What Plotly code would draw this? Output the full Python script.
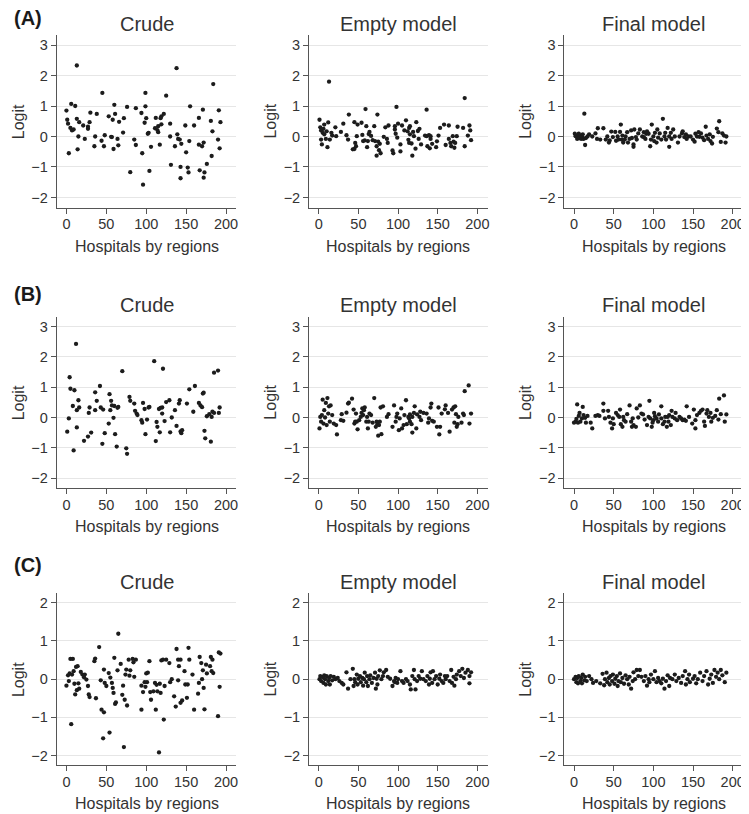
import plotly.graph_objects as go

# ---------------- data ----------------
a_crude_x = [0,1,2,3,5,6,7,9,11,13,13,14,15,16,21,23,27,27,29,30,35,36,38,44,45,47,48,53,56,57,58,59,60,61,64,65,66,71,72,76,80,85,87,87,94,95,98,99,99,96,100,102,103,104,106,111,112,114,115,115,117,118,119,119,122,125,130,130,131,136,138,139,140,142,143,143,144,149,150,152,153,154,155,160,166,166,167,170,171,172,173,172,176,181,182,183,184,190,191,192,193]
a_crude_y = [0.85,0.55,0.42,-0.55,0.28,1.07,0.2,0.23,1.0,2.33,0.58,-0.42,0,0.47,0.36,-0.08,0.32,0.25,0.47,0.78,-0.32,0,0.74,-0.14,1.43,-0.32,0.04,0.66,-0.01,-0.02,0.55,-0.41,1.04,0.74,-0.08,-0.29,0.48,0.13,0.6,0.97,-1.17,-0.1,-0.28,0.93,0.77,-0.55,0.45,0.99,1.43,-1.58,0.6,0.09,0.12,-1.13,-0.34,0.27,0.61,0.21,0.34,0.14,-0.27,0.6,0.4,0.66,0.74,1.34,0,0.42,-0.93,-0.32,2.24,0.07,-0.08,-0.1,-1.37,-1.0,-0.24,0.36,-0.52,-1.02,-1.18,-0.15,0.99,0.36,-0.27,0.61,-1.11,-0.32,0.88,-0.2,-1.18,-1.35,-0.9,0.51,-0.64,0.17,1.72,-0.1,0.86,-0.39,0.47]

a_empty_x = [1,2,3,3,4,5,6,7,7,9,10,11,12,13,14,16,17,21,22,28,31,35,37,38,43,45,45,46,47,48,49,54,55,56,58,59,60,61,62,63,64,66,68,70,71,73,73,74,75,76,77,78,82,84,86,87,88,93,94,96,96,97,98,99,100,103,103,105,108,110,112,113,114,114,115,115,117,118,119,120,122,123,125,126,127,129,134,136,136,137,139,140,141,141,143,148,149,151,153,158,160,164,164,166,167,169,170,171,172,174,175,182,184,184,188,190,191,192]
a_empty_y = [0.55,0.3,0.2,-0.1,-0.26,0.12,0.25,0.39,0.07,-0.08,0.17,-0.35,0.46,1.8,-0.1,0.12,0.03,0.3,0.01,0.15,0.42,0.04,-0.1,0.72,-0.42,-0.41,0.47,-0.21,-0.32,0.01,0.39,0.45,0.05,-0.15,-0.13,0.9,0.34,-0.35,-0.15,0.08,0.15,0.02,-0.12,0.34,-0.15,-0.32,-0.63,0.72,-0.17,-0.45,-0.24,-0.55,-0.01,0.3,-0.08,-0.21,0.36,-0.46,-0.55,0.23,0.34,0.09,0.97,-0.04,0.42,-0.26,-0.49,0.36,0.2,0.53,0.17,-0.11,0.28,-0.21,0.34,0.07,-0.23,-0.63,0.15,0.01,-0.4,0.47,0.18,-0.08,0.25,-0.26,0.03,0.88,0.01,-0.32,0.04,-0.39,-0.08,0.01,-0.24,-0.35,-0.16,0.03,0.28,0.39,-0.28,0.36,-0.08,-0.21,-0.32,0.01,-0.17,-0.37,-0.21,0.01,0.32,0.28,1.26,-0.32,0.03,0.36,0.2,-0.12]

a_final_x = [1,2,3,4,5,6,7,8,9,10,11,12,13,14,15,17,19,23,27,29,30,33,37,40,42,44,45,47,49,52,53,55,56,58,59,60,61,62,64,65,67,68,70,72,73,75,75,76,78,79,81,83,86,88,88,90,91,92,94,96,97,98,100,101,102,104,105,106,108,110,112,114,115,116,118,120,120,122,123,125,127,131,133,136,137,139,141,142,144,147,150,152,153,155,157,158,160,162,164,166,167,169,171,172,174,175,180,182,183,185,187,189,191,192]
a_final_y = [0.09,0.01,0.03,-0.08,0,0.09,-0.05,0.03,-0.08,0,0.07,-0.08,0.75,-0.28,-0.05,0,0.07,0,0.1,-0.08,0.27,-0.1,0.27,-0.1,0,-0.2,-0.13,0.16,-0.02,0.15,-0.14,0,-0.1,0.15,0.39,-0.1,0.03,-0.2,-0.1,0,0.14,-0.2,-0.08,0.2,-0.05,-0.34,-0.26,0.23,-0.02,-0.1,0.1,0.23,0,-0.02,0.14,-0.08,0.09,0.17,0.09,-0.32,-0.1,0.39,0,-0.15,0.12,-0.2,0.23,-0.04,0.1,-0.1,0.58,0,0.12,-0.1,0.28,0,-0.34,0.12,-0.08,0.23,0,-0.2,0,0.1,0.17,-0.02,0.07,-0.08,0,0,-0.1,-0.17,0.09,0,0.14,-0.01,0.1,-0.04,-0.12,0.32,0.03,-0.08,0.07,-0.15,-0.23,-0.01,0.26,0.14,0.5,-0.18,0.1,0.03,-0.2,0]

b_crude_x = [1,3,4,5,8,9,10,12,13,13,15,16,22,27,28,29,31,36,36,38,42,43,45,46,48,53,54,55,56,57,59,60,61,63,64,65,70,75,76,79,80,85,86,88,89,94,95,96,98,99,101,103,104,110,112,113,114,116,117,118,120,120,121,123,125,129,130,132,136,138,141,142,143,144,145,151,154,159,161,166,168,170,171,172,173,174,176,179,181,182,183,185,185,190,191,192]
b_crude_y = [-0.47,-0.03,1.33,0.95,0.38,-1.09,0.9,2.43,0.24,-0.33,0.57,0.33,-0.77,-0.63,0.15,0.33,-0.5,0.24,0.83,0.55,1.04,0.33,-0.87,0.26,-0.52,-0.2,0.77,0.24,0.55,0.4,-0.01,0.38,-0.55,-0.96,0.32,0.35,1.53,-1.02,-1.2,0.68,0.55,0.46,0.22,0.13,0.08,-0.09,-0.17,0.48,0.28,-0.55,-0.07,0.33,0.35,1.86,-0.78,-0.15,-0.31,0.28,-0.49,0.32,0.33,0.13,1.61,-0.12,0.51,0.57,-0.49,0,0.24,-0.28,0.46,0.57,-0.46,-0.52,-0.42,0.46,0.93,0.19,1.04,0.48,0.4,0.34,0.79,0.82,-0.44,-0.69,0.04,0.11,-0.8,0.02,0.19,1.48,0.15,1.55,0.15,0.33]

b_empty_x = [1,2,3,4,5,6,7,8,9,10,11,12,13,14,15,17,19,22,23,28,29,31,35,37,38,42,44,45,46,47,48,49,51,53,54,55,56,57,58,60,61,62,63,64,66,68,70,72,73,74,75,76,77,78,79,81,86,88,93,95,97,98,99,101,102,104,105,107,108,110,111,113,114,115,115,117,118,118,120,121,123,124,127,128,129,132,136,138,139,141,142,143,145,149,151,152,153,155,159,160,163,165,168,170,171,172,173,174,175,176,180,182,183,184,189,190,192]
b_empty_y = [-0.36,0.02,-0.14,0.08,0.59,-0.2,0.24,0,0.48,-0.25,0.64,0.13,0.37,-0.14,0.4,0.08,-0.2,-0.25,-0.56,-0.09,0.11,-0.11,0.16,0.46,0.49,0.62,0.26,-0.2,-0.14,0.13,-0.14,-0.39,-0.09,0.02,0.15,0.3,0.08,0.24,0.33,-0.14,0.02,-0.36,-0.14,0.13,0.08,-0.17,0.64,-0.31,-0.14,-0.22,-0.6,-0.25,-0.14,0.33,-0.55,0.37,0.02,0.11,-0.31,0.4,-0.14,0.02,0.13,-0.42,-0.03,0.3,-0.36,-0.25,0.08,0.57,-0.22,0.02,-0.03,-0.14,0.1,-0.22,-0.5,0.02,0.15,0.37,-0.36,0.1,0.02,0.19,-0.09,0.15,0.13,-0.17,-0.03,0.33,0.46,-0.11,-0.14,-0.31,0.33,-0.56,-0.31,0.13,0.27,0.4,0.15,-0.47,0.26,0.33,-0.17,0.37,0.11,-0.31,-0.22,0.02,-0.17,0.13,0.08,0.87,1.06,-0.2,0.13]

b_final_x = [0,2,3,4,5,6,7,8,10,11,12,14,15,17,21,23,27,30,32,37,37,39,43,44,46,48,49,50,53,55,57,58,59,61,62,63,65,67,70,72,73,74,75,78,79,81,83,85,87,89,92,94,95,96,98,99,100,101,102,104,106,107,110,110,112,114,115,117,118,119,120,122,123,124,127,128,130,133,135,137,139,141,142,145,149,151,153,153,155,158,160,162,164,165,167,168,170,172,173,175,178,180,182,183,185,189,190,192]
b_final_y = [-0.17,-0.14,-0.05,0.43,-0.17,0.05,0.15,-0.14,-0.03,0.35,0.08,-0.01,-0.17,0.05,-0.17,-0.36,0.05,0.08,0.05,0.46,0.22,-0.03,0.22,0.02,-0.17,-0.36,-0.03,-0.22,0.15,0.08,0.02,0.26,-0.22,-0.31,0.02,-0.09,-0.14,0.11,0.4,-0.14,-0.31,-0.03,-0.25,-0.31,0.3,0,0.4,0.13,0.1,-0.07,-0.25,0.02,0.55,-0.03,-0.31,-0.17,-0.09,0.15,0.04,-0.03,-0.14,0.1,0.37,-0.03,-0.22,-0.14,0.02,-0.31,0.02,-0.14,0.08,-0.25,0.22,0.02,-0.03,0.15,-0.09,0.02,-0.03,-0.09,-0.07,-0.11,0.37,0.02,-0.2,0.26,-0.36,-0.09,0.08,0.15,0.22,0.26,-0.14,-0.28,0.13,0.24,0.02,0.15,-0.14,-0.01,0.05,0.24,-0.07,0.62,0.11,0.73,-0.14,0.1]

c_crude_x = [0,2,3,4,5,6,7,8,9,10,11,12,13,14,15,16,18,20,22,23,25,27,28,29,35,36,37,41,43,44,46,47,47,48,50,53,54,55,57,58,59,60,61,62,64,65,68,70,71,72,73,74,75,76,78,79,80,83,84,85,87,94,94,96,98,99,100,101,102,104,105,106,109,111,112,113,114,116,117,118,119,121,122,123,125,129,130,132,135,137,138,140,140,141,143,143,145,148,149,151,152,153,154,158,160,165,166,167,169,170,171,172,173,175,176,180,181,182,183,184,190,191,192,193]
c_crude_y = [-0.17,0.1,-0.05,0.15,0.53,-1.18,0.12,0.53,0.21,-0.12,-0.4,0.32,-0.29,0.34,-0.11,-0.25,0.19,0.12,0.05,0.12,-0.01,-0.18,-0.4,-0.47,0.47,0.54,-0.5,0.84,-0.03,-0.8,-1.55,-0.87,0.25,-0.1,-0.18,0.16,-1.4,0.04,-0.1,-0.23,-0.36,0.56,-0.65,-0.61,0.23,1.19,0.4,-0.41,-0.17,-1.78,-0.54,0.12,0.25,-0.69,0.51,0.09,0.23,0.53,0.44,0.06,0.51,-0.8,-0.17,-0.34,-0.08,-0.2,0.15,-0.08,0.17,0.47,-0.34,-0.54,-0.32,-0.1,-0.8,-0.15,-0.32,-1.92,-0.12,-0.36,0.49,0.51,-1.06,-0.18,0.51,0.42,-0.08,0,-0.45,-0.72,0.79,0.51,-0.03,0.34,-0.62,0.51,-0.56,0.21,-0.14,-0.49,-0.14,0.82,0.51,0.12,-0.8,-0.38,-0.1,0.58,0.42,0,0.23,-0.23,-0.79,0.38,0.15,0.34,0.58,0.21,0.51,0.16,-0.97,0.7,-0.2,0.67]

c_empty_x = [1,2,3,5,6,7,8,9,10,12,13,14,15,17,19,21,24,26,29,31,35,37,40,43,44,45,46,48,49,50,52,53,55,56,57,58,60,61,62,64,65,67,69,71,72,73,74,75,77,79,81,82,85,87,90,93,95,96,97,99,100,103,105,107,110,112,115,116,118,120,121,122,124,126,128,130,132,135,137,139,140,141,143,144,146,148,150,152,153,155,157,159,160,162,165,167,168,170,171,173,174,177,179,181,183,185,188,190,190,192]
c_empty_y = [0,0.08,-0.05,0.05,-0.1,0.1,0,-0.14,0.08,-0.05,0.03,-0.14,0.08,-0.03,0.06,0,0.03,-0.05,-0.1,-0.14,0.18,-0.25,0,0.27,-0.18,0,-0.08,0.12,-0.14,0.01,0.08,-0.08,0.03,-0.17,0,0.17,-0.08,0.08,-0.18,0,0.1,-0.1,0.03,0.17,-0.25,0.01,-0.14,0.08,0.23,0,0.08,0.18,0.24,0.06,0.01,-0.18,-0.05,-0.08,0.03,-0.1,0,0.21,-0.05,-0.1,0,-0.05,-0.14,-0.27,0.08,0.24,0,-0.27,-0.05,0.08,0.01,0.21,0,-0.05,0.08,-0.14,0.01,0.18,-0.1,0.21,0,0.08,-0.14,0.01,0.12,-0.05,-0.1,0.08,0,0.08,-0.05,0.24,-0.1,0.06,-0.17,0,0.12,0.21,0.08,0.27,0.03,0.17,0.24,0.08,-0.11,0.18]

c_final_x = [0,2,3,4,5,6,8,9,10,11,13,14,16,19,22,24,28,33,36,38,39,41,42,44,45,46,48,49,51,52,54,55,56,58,59,61,63,65,67,69,70,72,74,75,77,79,81,83,85,88,90,92,94,95,97,100,102,104,106,108,110,112,114,116,118,120,121,124,127,129,132,135,137,140,141,143,145,146,150,152,154,156,159,162,164,167,169,171,173,175,177,179,181,183,185,187,190,192]
c_final_y = [0,0.06,-0.08,0.03,-0.11,0.08,-0.05,0.03,-0.11,0.12,-0.03,0.06,-0.05,0.08,0,-0.1,-0.05,-0.11,0.14,-0.16,0,0.17,-0.08,0.03,-0.14,0.08,-0.05,0.12,-0.12,0.01,0.08,-0.18,-0.05,0.15,-0.08,0.03,-0.12,0.1,0,-0.14,0.06,-0.25,-0.05,0.18,0,0.24,0.08,0.24,0.06,-0.05,0.08,-0.17,0,-0.08,0.12,0,0.21,-0.08,0.03,-0.05,-0.11,0.01,-0.25,-0.05,0.1,-0.18,0.03,0,0.12,-0.05,0.03,-0.1,0.08,0.21,-0.14,0,0.12,-0.08,0.01,0.08,-0.11,0,0.17,-0.05,0.08,0.21,-0.14,0.01,0.12,-0.1,0.24,0.06,0.17,0,0.24,0.1,-0.08,0.17]

panel_titles = ["Crude", "Empty model", "Final model"]
row_labels = ["(A)", "(B)", "(C)"]
x_title = "Hospitals by regions"
y_title = "Logit"
x_ticks = [0, 50, 100, 150, 200]
y_ticks_ab = [-2, -1, 0, 1, 2, 3]
y_ticks_c = [-2, -1, 0, 1, 2]

series = [
    [(a_crude_x, a_crude_y), (a_empty_x, a_empty_y), (a_final_x, a_final_y)],
    [(b_crude_x, b_crude_y), (b_empty_x, b_empty_y), (b_final_x, b_final_y)],
    [(c_crude_x, c_crude_y), (c_empty_x, c_empty_y), (c_final_x, c_final_y)],
]

# ---------------- layout geometry (window pixels) ----------------
OFF = 8                      # default page body margin
W, H = 749 - OFF, 814 - OFF  # figure size so it fits the window
col_px = [(57, 237), (310, 489), (566, 745)]
row_px = [(35, 207.5), (316.7, 488), (593.3, 765)]
y_ranges = [[-2.33, 3.33], [-2.33, 3.33], [-2.25, 2.25]]
y_tick_sets = [y_ticks_ab, y_ticks_ab, y_ticks_c]

FONT = "Liberation Sans, Arial, Helvetica, sans-serif"
fig = go.Figure()
layout = dict(
    width=W, height=H,
    margin=dict(l=0, r=0, t=0, b=0),
    paper_bgcolor="white", plot_bgcolor="white",
    showlegend=False,
    font=dict(family=FONT, color="#333333"),
)
annotations = []

def px_x(p):
    return (p - OFF) / W

def px_y(p):
    return 1 - (p - OFF) / H

k = 0
for r in range(3):
    for c in range(3):
        k += 1
        xs, ys = series[r][c]
        suffix = "" if k == 1 else str(k)
        fig.add_trace(go.Scatter(
            x=xs, y=ys, mode="markers",
            marker=dict(size=4.3, color="#1c1c1c"),
            xaxis="x" + suffix, yaxis="y" + suffix,
            hoverinfo="x+y",
        ))
        x0, x1 = col_px[c]
        y0, y1 = row_px[r]
        layout["xaxis" + suffix] = dict(
            domain=[px_x(x0), min(1.0, px_x(x1))], anchor="y" + suffix,
            range=[-12, 213], tickvals=x_ticks, showgrid=False, zeroline=False,
            showline=True, linecolor="#555555", linewidth=1.2,
            ticks="outside", ticklen=5, tickcolor="#555555", tickwidth=1.2,
            ticklabelstandoff=-2,
            tickfont=dict(size=14.5, color="#333333", family=FONT),
        )
        layout["yaxis" + suffix] = dict(
            domain=[px_y(y1), px_y(y0)], anchor="x" + suffix,
            range=y_ranges[r], tickvals=y_tick_sets[r],
            ticktext=[("\u2212" + str(-v)) if v < 0 else str(v) for v in y_tick_sets[r]],
            showgrid=True, gridcolor="#e6e6e6", gridwidth=1, zeroline=False,
            showline=True, linecolor="#555555", linewidth=1.2,
            ticks="outside", ticklen=5, tickcolor="#555555", tickwidth=1.2,
            tickfont=dict(size=14.5, color="#333333", family=FONT),
        )
        cx = (x0 + x1) / 2
        annotations.append(dict(
            text=panel_titles[c], x=px_x(cx), y=px_y(y0 - 11.5),
            xref="paper", yref="paper", xanchor="center", yanchor="middle",
            showarrow=False, font=dict(size=20, color="#333333", family=FONT),
        ))
        annotations.append(dict(
            text=x_title, x=px_x(cx), y=px_y(y1 + 38.5),
            xref="paper", yref="paper", xanchor="center", yanchor="middle",
            showarrow=False, font=dict(size=16, color="#333333", family=FONT),
        ))
        annotations.append(dict(
            text=y_title, x=px_x(x0 - 39), y=px_y((y0 + y1) / 2),
            xref="paper", yref="paper", xanchor="center", yanchor="middle",
            textangle=-90, showarrow=False,
            font=dict(size=16, color="#333333", family=FONT),
        ))

label_y = [18, 294.5, 564.5]
for r in range(3):
    annotations.append(dict(
        text="<b>" + row_labels[r] + "</b>", x=px_x(12), y=px_y(label_y[r]),
        xref="paper", yref="paper", xanchor="left", yanchor="middle",
        showarrow=False, font=dict(size=20, color="#1a1a1a", family=FONT),
    ))

layout["annotations"] = annotations
fig.update_layout(**layout)
fig.write_html("out.html")
